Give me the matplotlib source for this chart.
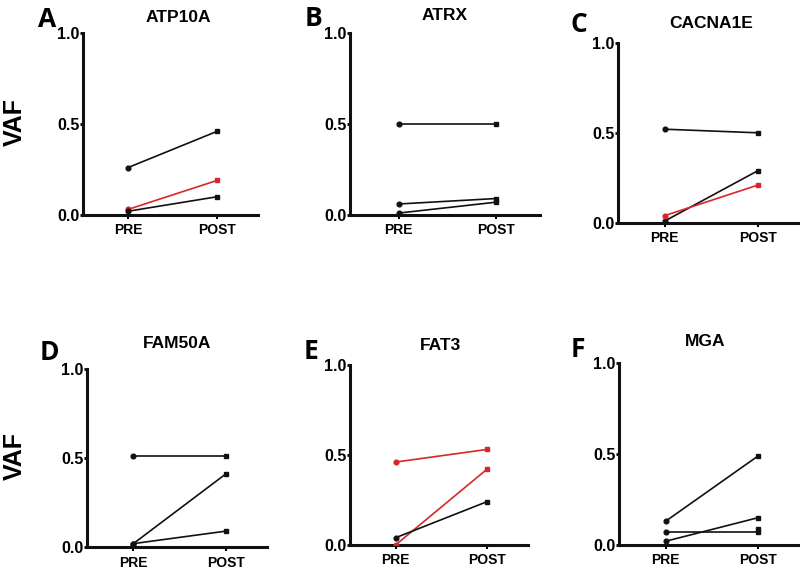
import matplotlib
matplotlib.use('Agg')
import matplotlib.pyplot as plt
import numpy as np

plt.rcParams['font.family'] = ['Liberation Sans', 'DejaVu Sans']

RED = '#d9262b'
BLACK = '#111111'

# gene panels: (letter, title)
panel_letters = ['A', 'B', 'C', 'D', 'E', 'F']
gene_names = ['ATP10A', 'ATRX', 'CACNA1E', 'FAM50A', 'FAT3', 'MGA']

# VAF values per patient: [PRE, POST]
atp10a_pre = [0.26, 0.03, 0.02]
atp10a_post = [0.46, 0.19, 0.10]
atp10a_col = ['k', 'r', 'k']

atrx_pre = [0.50, 0.06, 0.01]
atrx_post = [0.50, 0.09, 0.07]
atrx_col = ['k', 'k', 'k']

cacna1e_pre = [0.52, 0.01, 0.04]
cacna1e_post = [0.50, 0.29, 0.21]
cacna1e_col = ['k', 'k', 'r']

fam50a_pre = [0.51, 0.02, 0.02]
fam50a_post = [0.51, 0.41, 0.09]
fam50a_col = ['k', 'k', 'k']

fat3_pre = [0.46, 0.00, 0.04]
fat3_post = [0.53, 0.42, 0.24]
fat3_col = ['r', 'r', 'k']

mga_pre = [0.13, 0.07, 0.02, np.nan]
mga_post = [0.49, 0.07, 0.15, 0.09]
mga_col = ['k', 'k', 'k', 'k']

all_pre = [atp10a_pre, atrx_pre, cacna1e_pre, fam50a_pre, fat3_pre, mga_pre]
all_post = [atp10a_post, atrx_post, cacna1e_post, fam50a_post, fat3_post, mga_post]
all_col = [atp10a_col, atrx_col, cacna1e_col, fam50a_col, fat3_col, mga_col]

x_labels = ['PRE', 'POST']
y_ticks = [0.0, 0.5, 1.0]

# axes rectangles in figure fraction [left, bottom, width, height]
rects = [
    [0.104, 0.623, 0.218, 0.319],
    [0.4375, 0.623, 0.2375, 0.319],
    [0.7725, 0.609, 0.2275, 0.316],
    [0.109, 0.040, 0.225, 0.313],
    [0.4375, 0.044, 0.2225, 0.316],
    [0.774, 0.044, 0.226, 0.319],
]
# (letter x, letter y, title x, title y) in pixels
label_pos = [
    (38, 27, 178, 18),
    (305, 26, 445, 15),
    (571, 32, 711, 23),
    (40, 360, 177, 343),
    (304, 359, 440, 346),
    (571, 357, 705, 342),
]

fig = plt.figure(figsize=(8, 5.7), dpi=100)
W, H = 800, 570

for i in range(6):
    ax = fig.add_axes(rects[i])
    for pre, post, c in zip(all_pre[i], all_post[i], all_col[i]):
        color = RED if c == 'r' else BLACK
        ax.plot([0, 1], [pre, post], color=color, linewidth=1.2, zorder=3)
        ax.plot([0], [pre], marker='o', markersize=3.4, color=color, zorder=4)
        ax.plot([1], [post], marker='s', markersize=3.0, color=color, zorder=4)

    ax.set_xlim(-0.5, 1.45)
    ax.set_ylim(0, 1.0)
    ax.set_xticks([0, 1])
    ax.set_xticklabels(x_labels, fontsize=10, fontweight='bold')
    ax.set_yticks(y_ticks)
    ax.set_yticklabels(['{:.1f}'.format(v) for v in y_ticks], fontsize=11.5, fontweight='bold')
    ax.tick_params(axis='y', length=2, width=2, pad=0.5)
    ax.tick_params(axis='x', length=3, width=1.5, pad=3)
    for s in ['top', 'right']:
        ax.spines[s].set_visible(False)
    for s in ['left', 'bottom']:
        ax.spines[s].set_linewidth(2.2)
        ax.spines[s].set_color(BLACK)
    ax.patch.set_alpha(0)

    lx, ly, tx, ty = label_pos[i]
    fig.text(lx / W, 1 - ly / H, panel_letters[i], fontsize=19, fontweight='bold',
             family=['Open Sans', 'DejaVu Sans'], ha='left', va='baseline')
    fig.text(tx / W, 1 - ty / H, gene_names[i], fontsize=12.5, fontweight='bold',
             ha='center', va='center')

# y-axis labels
fig.text(15 / W, 1 - 122 / H, 'VAF', fontsize=18, fontweight='bold', rotation=90,
         ha='center', va='center')
fig.text(15 / W, 1 - 456 / H, 'VAF', fontsize=18, fontweight='bold', rotation=90,
         ha='center', va='center')

fig.savefig('out.png', dpi=100)
